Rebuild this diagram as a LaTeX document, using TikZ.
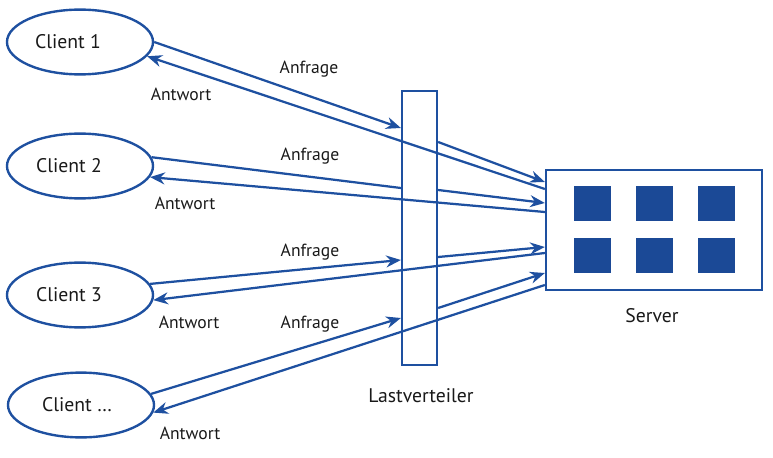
\documentclass[tikz,border=0pt]{standalone}
\usepackage{fontspec}
\setmainfont{PT Sans}
\usetikzlibrary{shapes.geometric,arrows.meta}
\definecolor{lineblue}{RGB}{30,80,160}
\definecolor{boxblue}{RGB}{27,73,150}
\begin{document}
\begin{tikzpicture}[
    x=0.025cm, y=-0.025cm,
    client/.style={ellipse, draw=lineblue, line width=1.7pt, minimum width=3.65cm, minimum height=1.62cm},
    clienttext/.style={font=\fontsize{14}{16}\selectfont, text=black!90},
    msgtext/.style={font=\fontsize{12.5}{14}\selectfont, text=black!90},
    myblock/.style={rectangle, draw=lineblue, line width=1.6pt},
    cpu/.style={rectangle, fill=boxblue, minimum width=0.925cm, minimum height=0.875cm, inner sep=0pt},
    myarrow/.style={-{Stealth[length=10.5pt, width=8.5pt]}, draw=lineblue, line width=1.6pt},
    myline/.style={draw=lineblue, line width=1.6pt},
]
\useasboundingbox (0,0) rectangle (773,458);

% Clients
\node[client] (c1) at (80,42) {};
\node[client] (c2) at (80,166) {};
\node[client] (c3) at (80,295) {};
\node[client] (c4) at (81,405) {};
\node[clienttext] (c1t) at (68,42) {Client 1};
\node[clienttext] (c2t) at (69,166) {Client 2};
\node[clienttext] (c3t) at (69,295) {Client 3};
\node[clienttext] (c4t) at (77,405) {Client \dots};

% Lastverteiler und Server
\node[myblock, minimum width=0.875cm, minimum height=6.85cm] (lb) at (419.5,228) {};
\node[myblock, minimum width=5.4cm, minimum height=3cm] (srv) at (654,230) {};
\foreach \i/\x in {1/592.5, 2/654.5, 3/716.5} {
  \node[cpu] (cpu-a\i) at (\x,203.5) {};
  \node[cpu] (cpu-b\i) at (\x,255.5) {};
}
\node[clienttext] (lbt) at (421,396) {Lastverteiler};
\node[clienttext] (srvt) at (652,316) {Server};

% Client 1
\draw[myarrow] (c1.east) -- (lb.west |- 0,128);
\draw[myarrow] (lb.east |- 0,142) -- (srv.west |- 0,182);
\draw[myarrow] (srv.west |- 0,189) -- (c1.-12);
% Client 2
\draw[myline] (c2.7) -- (lb.west |- 0,188);
\draw[myarrow] (lb.east |- 0,190) -- (srv.west |- 0,203);
\draw[myarrow] (srv.west |- 0,212) -- (c2.-9);
% Client 3
\draw[myarrow] (c3.9) -- (lb.west |- 0,260);
\draw[myarrow] (lb.east |- 0,257) -- (srv.west |- 0,247);
\draw[myarrow] (srv.west |- 0,253) -- (c3.-4);
% Client ...
\draw[myarrow] (c4.9) -- (lb.west |- 0,318);
\draw[myarrow] (lb.east |- 0,308) -- (srv.west |- 0,273);
\draw[myarrow] (srv.west |- 0,285) -- (c4.-6);

\node[msgtext] (q1) at (309,69) {Anfrage};
\node[msgtext] (a1) at (181,94) {Antwort};
\node[msgtext] (q2) at (310,156) {Anfrage};
\node[msgtext] (a2) at (185,203) {Antwort};
\node[msgtext] (q3) at (310,252) {Anfrage};
\node[msgtext] (a3) at (189,322) {Antwort};
\node[msgtext] (q4) at (310,324) {Anfrage};
\node[msgtext] (a4) at (190,433) {Antwort};
\end{tikzpicture}
\end{document}
